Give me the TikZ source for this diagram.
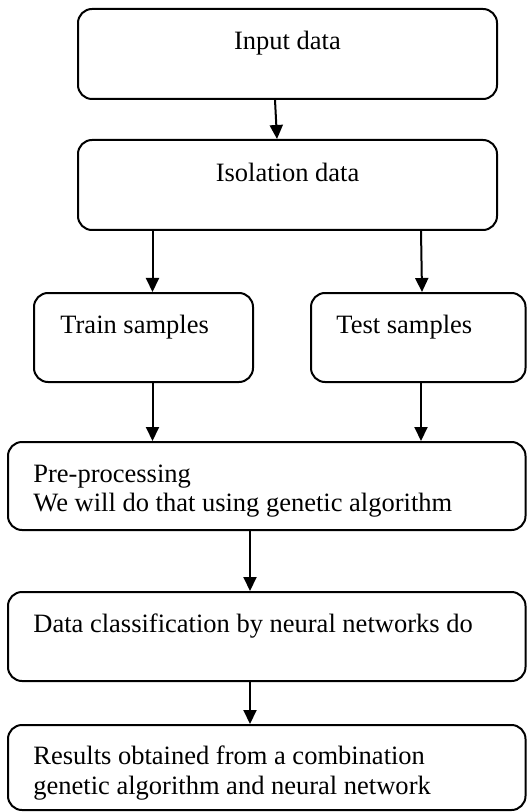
\documentclass[tikz,border=0pt]{standalone}
\usepackage{fontspec}
\setmainfont{Liberation Serif}
\usetikzlibrary{arrows.meta,fit}
\begin{document}
\begin{tikzpicture}[x=0.5pt,y=-0.5pt,
  box/.style={draw=black,line width=1pt,rounded corners=7pt,inner sep=0pt},
  lbl/.style={inner sep=0pt,font=\fontsize{13.25}{15}\selectfont},
  arr/.style={line width=1pt,-{Triangle[width=6.5pt,length=7pt]}}]
\path[fill=white,use as bounding box] (0,0) rectangle (527,812);
% boxes
\node[box,fit={(78,9) (497,99)}] (b1) {};
\node[box,fit={(78,140) (497,230)}] (b2) {};
\node[box,fit={(34,293) (253,382)}] (train) {};
\node[box,fit={(311,293) (525.5,382)}] (test) {};
\node[box,fit={(8,442) (525.5,530)}] (pre) {};
\node[box,fit={(8,592) (525.5,681)}] (cls) {};
\node[box,fit={(8,725) (525.5,810)}] (res) {};
% labels
\node[lbl,anchor=base] (t1) at (287.5,50) {Input data};
\node[lbl,anchor=base] (t2) at (287.5,182) {Isolation data};
\node[lbl,anchor=base west] (t3) at (60,333) {Train samples};
\node[lbl,anchor=base west] (t4) at (336,333) {Test samples};
\node[lbl,anchor=base west] (t5) at (33,482) {Pre-processing};
\node[lbl,anchor=base west] (t6) at (33,511) {We will do that using genetic algorithm};
\node[lbl,anchor=base west] (t7) at (33,632) {Data classification by neural networks do};
\node[lbl,anchor=base west] (t8) at (33,764) {Results obtained from a combination};
\node[lbl,anchor=base west] (t9) at (33,794) {genetic algorithm and neural network};
% connector columns
\coordinate (c1a) at (275,0);
\coordinate (c1b) at (277,0);
\coordinate (cl) at (152.5,0);
\coordinate (cra) at (421,0);
\coordinate (crb) at (422,0);
\coordinate (cm) at (250,0);
% arrows
\draw[arr] (b1.south -| c1a) -- (b2.north -| c1b);
\draw[arr] (b2.south -| cl) -- (train.north -| cl);
\draw[arr] (b2.south -| cra) -- (test.north -| crb);
\draw[arr] (train.south -| cl) -- (pre.north -| cl);
\draw[arr] (test.south -| cra) -- (pre.north -| cra);
\draw[arr] (pre.south -| cm) -- (cls.north -| cm);
\draw[arr] (cls.south -| cm) -- (res.north -| cm);
\end{tikzpicture}
\end{document}
